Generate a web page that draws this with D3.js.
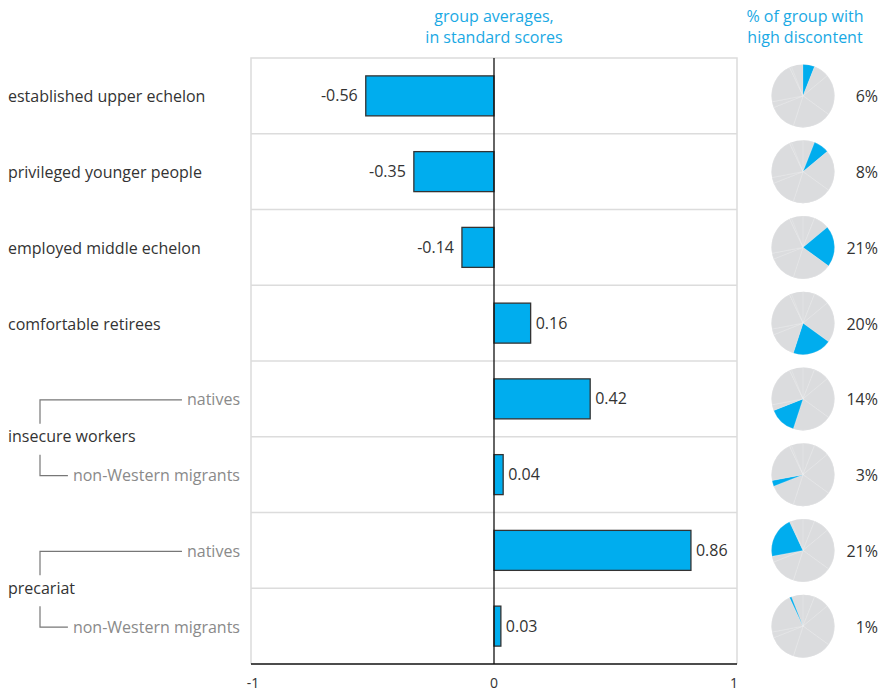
<!DOCTYPE html>
<html>
<head>
<meta charset="utf-8">
<script src="https://cdn.jsdelivr.net/npm/d3@7"></script>
<style>
  html, body { margin: 0; padding: 0; background: #fff; }
  svg { display: block; font-family: "Open Sans", Lato, sans-serif; }
</style>
</head>
<body>
<svg id="chart" width="886" height="693"></svg>
<script>
// Row labels (main label, or sub-label within a bracketed group)
const rowLabels = [
  "established upper echelon",
  "privileged younger people",
  "employed middle echelon",
  "comfortable retirees",
  "natives",
  "non-Western migrants",
  "natives",
  "non-Western migrants"
];
const isSubRow = [false, false, false, false, true, true, true, true];
const groupLabels = ["insecure workers", "precariat"];
const groupRows = [[4, 5], [6, 7]];

// Group averages in standard scores
const scores = [-0.56, -0.35, -0.14, 0.16, 0.42, 0.04, 0.86, 0.03];
const scoreLabels = ["-0.56", "-0.35", "-0.14", "0.16", "0.42", "0.04", "0.86", "0.03"];

// Share of each group with high discontent (%)
const discontent = [6, 8, 21, 20, 14, 3, 21, 1];

const xTicks = [-1, 0, 1];
const titleScores = ["group averages,", "in standard scores"];
const titlePies = ["% of group with", "high discontent"];

const blue = "#00adee";
const titleBlue = "#1aa9e4";
const grid = "#dcdcdc";
const ink = "#333";
const sub = "#8a8a8a";
const fs = 16;

const svg = d3.select("#chart");

const panel = { left: 251, right: 737, top: 58, bottom: 664 };
const zeroX = (panel.left + panel.right) / 2;

const x = d3.scaleLinear().domain([-1, 1]).range([zeroX - 229, zeroX + 229]);
const y = d3.scaleBand()
  .domain(d3.range(scores.length))
  .range([panel.top, panel.bottom])
  .paddingInner(0.472)
  .paddingOuter(0.236);
const step = y.step();
const rowCenter = i => y(i) + y.bandwidth() / 2;

// Titles
const tScores = svg.append("text").attr("fill", titleBlue).attr("font-size", fs)
  .attr("text-anchor", "middle");
titleScores.forEach((t, k) => tScores.append("tspan").attr("x", zeroX).attr("y", 22 + k * 21).text(t));
const tPies = svg.append("text").attr("fill", titleBlue).attr("font-size", fs)
  .attr("text-anchor", "middle");
titlePies.forEach((t, k) => tPies.append("tspan").attr("x", 805).attr("y", 22 + k * 21).text(t));

// Panel frame and row separators
const frame = svg.append("g").attr("stroke", grid).attr("stroke-width", 1.5).attr("fill", "none");
frame.append("path")
  .attr("d", `M${panel.left},${panel.bottom}V${panel.top}H${panel.right}V${panel.bottom}`);
frame.selectAll("line.sep")
  .data(d3.range(1, scores.length))
  .join("line")
  .attr("class", "sep")
  .attr("x1", panel.left).attr("x2", panel.right)
  .attr("y1", i => panel.top + i * step).attr("y2", i => panel.top + i * step);

// Bars
svg.append("g").selectAll("rect")
  .data(scores)
  .join("rect")
  .attr("x", d => Math.min(x(0), x(d)))
  .attr("width", d => Math.abs(x(d) - x(0)))
  .attr("y", (d, i) => y(i))
  .attr("height", y.bandwidth())
  .attr("fill", blue)
  .attr("stroke", ink)
  .attr("stroke-width", 1.3);

// Value labels
svg.append("g").attr("font-size", fs).attr("fill", ink)
  .selectAll("text")
  .data(scores)
  .join("text")
  .attr("x", d => d < 0 ? x(d) - 8 : x(d) + 5)
  .attr("y", (d, i) => rowCenter(i))
  .attr("dy", "0.35em")
  .attr("text-anchor", d => d < 0 ? "end" : "start")
  .text((d, i) => scoreLabels[i]);

// Zero line
svg.append("line")
  .attr("x1", x(0)).attr("x2", x(0))
  .attr("y1", panel.top).attr("y2", panel.bottom)
  .attr("stroke", "#111").attr("stroke-width", 1.3);

// Bottom axis
svg.append("line")
  .attr("x1", panel.left).attr("x2", panel.right)
  .attr("y1", panel.bottom).attr("y2", panel.bottom)
  .attr("stroke", "#111").attr("stroke-width", 1.5);
svg.append("g").attr("font-size", 14).attr("fill", ink).attr("text-anchor", "middle")
  .selectAll("text")
  .data(xTicks)
  .join("text")
  .attr("x", d => d === 0 ? x(d) : (d < 0 ? panel.left + 2 : panel.right - 3))
  .attr("y", 688)
  .text(d => d);

// Row labels
const labels = svg.append("g").attr("font-size", fs);
const subTexts = [];
rowLabels.forEach((t, i) => {
  const el = labels.append("text")
    .attr("y", rowCenter(i) + 1)
    .attr("dy", "0.35em")
    .text(t);
  if (isSubRow[i]) {
    el.attr("x", 240).attr("text-anchor", "end").attr("fill", sub);
  } else {
    el.attr("x", 8).attr("fill", ink);
  }
  subTexts[i] = el;
});

// Bracketed groups
const brackets = svg.append("g").attr("stroke", "#777").attr("stroke-width", 1.2).attr("fill", "none");
groupLabels.forEach((g, k) => {
  const [a, b] = groupRows[k];
  const gy = panel.top + b * step;
  labels.append("text")
    .attr("x", 8).attr("y", gy).attr("dy", "0.35em")
    .attr("fill", ink)
    .text(g);
  const ya = rowCenter(a) + 1, yb = rowCenter(b) + 1;
  const xa = 240 - subTexts[a].node().getComputedTextLength() - 5;
  const xb = 240 - subTexts[b].node().getComputedTextLength() - 5;
  brackets.append("path").attr("d", `M40,${gy - 13}V${ya}H${xa}`);
  brackets.append("path").attr("d", `M40,${gy + 18}V${yb}H${xb}`);
});

// Pies: each shows all groups' shares, highlighting its own
const pieR = 31.5, pieX = 803;
const total = d3.sum(discontent);
const pie = d3.pie().sort(null).value(d => d).endAngle(2 * Math.PI * total / 100);
const arcs = pie(discontent);
const arc = d3.arc().innerRadius(0).outerRadius(pieR);

const pies = svg.append("g").selectAll("g")
  .data(discontent)
  .join("g")
  .attr("transform", (d, i) => `translate(${pieX},${rowCenter(i)})`);
pies.append("circle").attr("r", pieR).attr("fill", "#dbdcde");
pies.each(function (d, i) {
  d3.select(this).selectAll("path")
    .data(arcs)
    .join("path")
    .attr("d", arc)
    .attr("fill", (a, j) => j === i ? blue : "#dbdcde")
    .attr("stroke", "#fff")
    .attr("stroke-opacity", 0.3)
    .attr("stroke-width", 0.6);
});

// Percentage labels
svg.append("g").attr("font-size", fs).attr("fill", ink).attr("text-anchor", "end")
  .selectAll("text")
  .data(discontent)
  .join("text")
  .attr("x", 878)
  .attr("y", (d, i) => rowCenter(i) + 1)
  .attr("dy", "0.35em")
  .text(d => d + "%");
</script>
</body>
</html>
